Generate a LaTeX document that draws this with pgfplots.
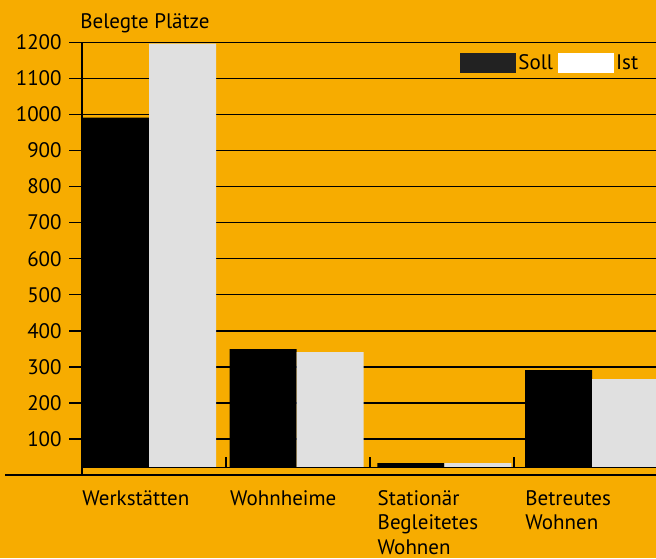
\documentclass[border=0pt]{standalone}
\usepackage{fontspec}
\setmainfont{PT Sans}
\usepackage{pgfplots}
\pgfplotsset{compat=1.18}
\definecolor{bg}{HTML}{F7AC00}
\definecolor{istgray}{HTML}{E0E0E0}
\definecolor{legblack}{HTML}{222222}
\begin{document}
\fontsize{10.5pt}{12.5pt}\selectfont
\begin{tikzpicture}
\fill[bg] (0pt,0pt) rectangle (328pt,279pt);
\useasboundingbox (0pt,0pt) rectangle (328pt,279pt);
\begin{axis}[
  at={(41pt,41.5pt)}, anchor=south west,
  scale only axis, width=287pt, height=216.35pt,
  xmin=-0.4537, xmax=3.4334, ymin=0, ymax=1200,
  ybar=0pt, bar width=33.5pt,
  axis lines*=left,
  axis line style={line width=0.75pt, black},
  clip=false,
  ytick={100,200,...,1200},
  ymajorgrids,
  grid style={line width=0.75pt, black},
  tick align=outside,
  major tick length=6.5pt,
  ytick style={line width=0.75pt, black},
  xtick={0,1,2,3},
  xtick style={draw=none},
  xticklabels={Werkstätten, Wohnheime, {Stationär\\Begleitetes\\Wohnen}, {Betreutes\\Wohnen}},
  xticklabel style={anchor=north west, align=left, inner sep=0pt, xshift=-33.5pt, yshift=-1pt,
     font=\fontsize{10.5pt}{12.3pt}\selectfont},
  yticklabel style={anchor=east, inner sep=0pt, xshift=-3.5pt, font=\fontsize{10.5pt}{12.5pt}\selectfont},
  /pgf/number format/assume math mode=true,
  /pgf/number format/1000 sep={},
  title={Belegte Plätze},
  title style={at={(axis description cs:0,1)}, anchor=base west, xshift=-1pt, yshift=1pt, inner sep=0pt,
     font=\fontsize{10.5pt}{12.5pt}\selectfont},
  legend style={draw=none, fill=none, inner sep=0pt, at={(0.6585,0.9776)}, anchor=north west,
     legend columns=2, font=\fontsize{10.5pt}{12.5pt}\selectfont,
     /tikz/every even column/.append style={column sep=1.5pt},
     nodes={inner sep=1pt}},
]
\addplot[fill=black, draw=none,
  legend image code/.code={\fill[legblack] (0pt,-5pt) rectangle (28pt,5pt);}]
  coordinates {(0,991) (1,349) (2,33) (3,291)};
\addplot[fill=istgray, draw=none,
  legend image code/.code={\fill[white] (0pt,-5pt) rectangle (28pt,5pt);}]
  coordinates {(0,1196) (1,341) (2,33) (3,266)};
\legend{Soll, Ist}
% floor
\fill[bg] (axis cs:-0.4537,0) rectangle (axis cs:3.4334,21);
\draw[line width=0.75pt, black] (axis cs:-0.975,0) -- (axis cs:3.4334,0);
\draw[line width=0.75pt, black] (axis cs:-0.4537,21) -- (axis cs:3.4334,21);
\draw[line width=0.75pt, black] (axis cs:-0.4537,0) -- (axis cs:-0.4537,1200);
\draw[line width=0.75pt, black] (axis cs:0.521,21) -- (axis cs:0.521,50);
\draw[line width=0.75pt, black] (axis cs:1.496,21) -- (axis cs:1.496,50);
\draw[line width=0.75pt, black] (axis cs:2.471,21) -- (axis cs:2.471,50);
\end{axis}
\end{tikzpicture}
\end{document}
